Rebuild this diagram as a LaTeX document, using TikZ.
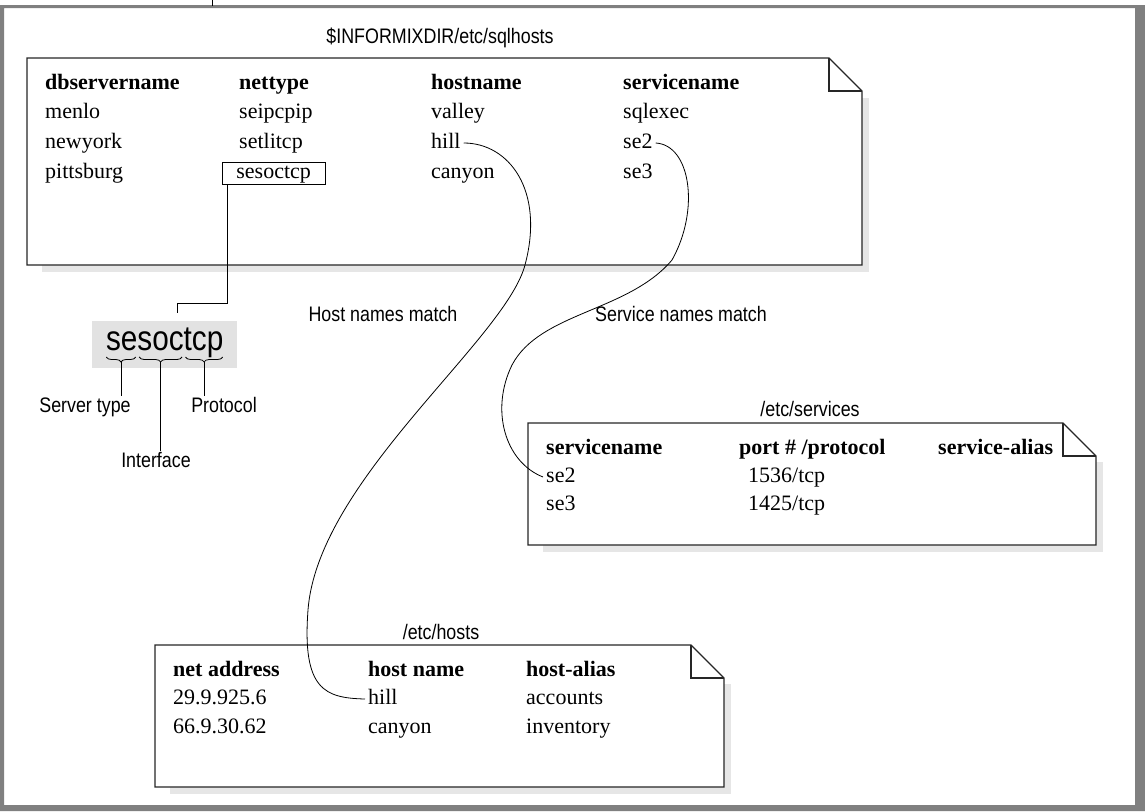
\documentclass[tikz,border=0pt]{standalone}
\usepackage{fontspec}
\setmainfont{Liberation Serif}
\newfontfamily\lsans[FakeStretch=0.85]{Liberation Sans}
\usetikzlibrary{calc,decorations.pathreplacing}
\definecolor{framegray}{HTML}{808080}
\definecolor{shadowgray}{HTML}{E6E6E6}
\definecolor{hlgray}{HTML}{E2E2E2}
\newlength\wse
\newlength\wsesoc
\newlength\wall
\newcommand\bigsans{\lsans\fontsize{35}{40}\selectfont}
\begin{document}
\settowidth\wse{\bigsans se}%
\settowidth\wsesoc{\bigsans sesoc}%
\settowidth\wall{\bigsans sesoctcp}%
\begin{tikzpicture}[x=1pt,y=-1pt,
  tbl/.style={font=\fontsize{22}{26}\selectfont, inner sep=3pt, text height=15pt, text depth=5pt, anchor=base west},
  hd/.style={tbl, font=\fontsize{22}{26}\selectfont\bfseries},
  lbl/.style={font=\lsans\fontsize{21}{25}\selectfont, anchor=base, inner sep=1pt},
  boxline/.style={line width=1.1pt, draw=black!85},
  conn/.style={line width=0.8pt},
  shadow/.style={fill=shadowgray}]
\useasboundingbox (0,0) rectangle (1145,811);
% outer frame
\fill[framegray, even odd rule] (0,5) rectangle (1145,811) (4,8) rectangle (1135,805);
\draw[line width=0.8pt] (212,0) -- (212,6);

% ---------- sqlhosts ----------
\node[lbl] (tsql) at (440,43) {\$INFORMIXDIR/etc/sqlhosts};
\fill[shadow] (42,98) rectangle (869,272);
\draw[boxline, fill=white] (27,58) -- (829,58) -- (862,91) -- (862,265) -- (27,265) -- cycle;
\draw[boxline] (829,58) -- (829,91) -- (862,91);

\node[hd] (h1) at (42,89) {dbservername};
\node[hd] (h2) at (236,89) {nettype};
\node[hd] (h3) at (428,89) {hostname};
\node[hd] (h4) at (620,89) {servicename};
\node[tbl] (a1) at (42,118) {menlo};
\node[tbl] (a2) at (236,118) {seipcpip};
\node[tbl] (a3) at (428,118) {valley};
\node[tbl] (a4) at (620,118) {sqlexec};
\node[tbl] (b1) at (42,148) {newyork};
\node[tbl] (b2) at (236,148) {setlitcp};
\node[tbl] (hill1) at (428,148) {hill};
\node[tbl] (se2a) at (620,148) {se2};
\node[tbl] (c1) at (42,178) {pittsburg};
\node[tbl, draw, line width=0.8pt, inner xsep=14pt, inner ysep=0pt, text height=16pt, text depth=6pt] (nt) at (222,178) {sesoctcp};
\node[tbl] (c3) at (428,178) {canyon};
\node[tbl] (c4) at (620,178) {se3};

% ---------- sesoctcp breakdown ----------
\node[fill=hlgray, minimum width=145pt, minimum height=47pt, inner sep=0pt] (hl) at (164.5,344.5) {};
\node[font=\bigsans, anchor=base west, inner sep=0pt] (word) at ($(164.5,350)-(0.5\wall,0)$) {sesoctcp};
\coordinate (elbow) at (177,303);
\coordinate (wtop) at (177,313);
\draw[conn] ($(nt.south west)+(5,0)$) |- (elbow) -- (wtop);

\coordinate (bA) at ($(word.base west)+(0.5,7)$);
\coordinate (bB) at ($(word.base west)+(\wse,7)+(-1.5,0)$);
\coordinate (bC) at ($(word.base west)+(\wse,7)+(2,0)$);
\coordinate (bD) at ($(word.base west)+(\wsesoc,7)+(-1.5,0)$);
\coordinate (bE) at ($(word.base west)+(\wsesoc,7)+(2,0)$);
\coordinate (bF) at ($(word.base west)+(\wall,7)+(-0.5,0)$);
\draw[conn, decorate, decoration={brace, mirror, amplitude=5pt}] (bA) -- (bB);
\draw[conn, decorate, decoration={brace, mirror, amplitude=5pt}] (bC) -- (bD);
\draw[conn, decorate, decoration={brace, mirror, amplitude=5pt}] (bE) -- (bF);
\coordinate (m1) at ($(bA)!0.5!(bB)+(0,5)$);
\coordinate (m2) at ($(bC)!0.5!(bD)+(0,5)$);
\coordinate (m3) at ($(bE)!0.5!(bF)+(0,5)$);

\node[lbl] (stype) at (85,412) {Server type};
\node[lbl] (proto) at (224,412) {Protocol};
\node[lbl] (iface) at (156,467) {Interface};
\draw[conn] (m1) -- (m1 |- stype.north);
\draw[conn] (m2) -- (m2 |- iface.north);
\draw[conn] (m3) -- (m3 |- proto.north);

% ---------- match labels ----------
\node[lbl] (hm) at (383,321) {Host names match};
\node[lbl] (sm) at (681,321) {Service names match};

% ---------- services ----------
\node[lbl] (tsrv) at (810,416) {/etc/services};
\fill[shadow] (543,462) rectangle (1103,552);
\draw[boxline, fill=white] (528,423) -- (1063,423) -- (1096,456) -- (1096,545) -- (528,545) -- cycle;
\draw[boxline] (1063,423) -- (1063,456) -- (1096,456);
\node[hd] (s1) at (543,454) {servicename};
\node[hd] (s2) at (736,454) {port \# /protocol};
\node[hd] (s3) at (935,454) {service-alias};
\node[tbl] (se2b) at (543,482) {se2};
\node[tbl] (p1) at (745,482) {1536/tcp};
\node[tbl] (se3b) at (543,510) {se3};
\node[tbl] (p2) at (745,510) {1425/tcp};

% ---------- hosts ----------
\node[lbl] (thst) at (441,639) {/etc/hosts};
\fill[shadow] (170,684) rectangle (731,794);
\draw[boxline, fill=white] (155,645) -- (691,645) -- (724,678) -- (724,787) -- (155,787) -- cycle;
\draw[boxline] (691,645) -- (691,678) -- (724,678);
\node[hd] (k1) at (170,676) {net address};
\node[hd] (k2) at (365,676) {host name};
\node[hd] (k3) at (523,676) {host-alias};
\node[tbl] (ip1) at (170,704) {29.9.925.6};
\node[tbl] (hill2) at (365,704) {hill};
\node[tbl] (al1) at (523,704) {accounts};
\node[tbl] (ip2) at (170,733) {66.9.30.62};
\node[tbl] (cany) at (365,733) {canyon};
\node[tbl] (al2) at (523,733) {inventory};

% ---------- matching curves ----------
\draw[conn] (hill1.east) .. controls +(45,0) and (545,190) .. (525,265)
  .. controls (505,340) and (318,480) .. (308,610)
  .. controls (302,690) and (325,698) .. (hill2.west);
\draw[conn] (se2a.east) .. controls +(35,2) and (700,210) .. (672,260)
  .. controls (628,312) and (540,312) .. (512,365)
  .. controls (490,410) and (505,462) .. (se2b.west);
\end{tikzpicture}
\end{document}
